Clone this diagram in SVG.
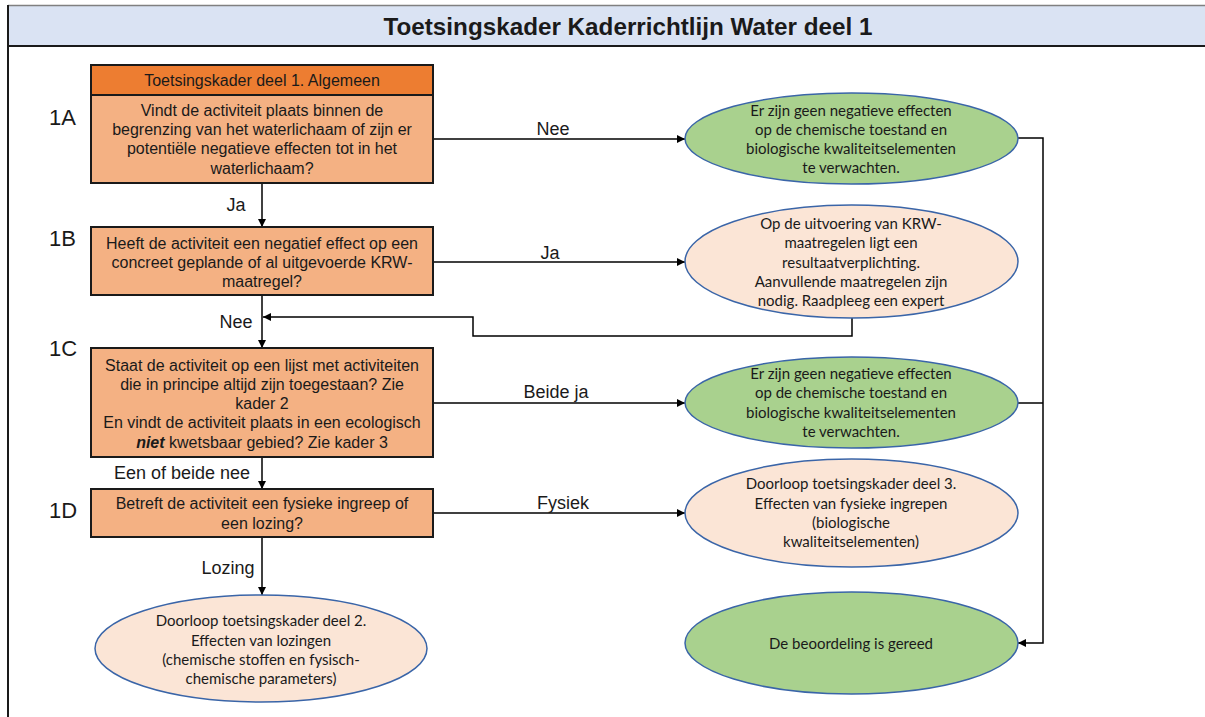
<svg xmlns="http://www.w3.org/2000/svg" width="1205" height="717" viewBox="0 0 1205 717">
<defs>
<marker id="arr" viewBox="0 0 10 10" refX="10" refY="5" markerWidth="8" markerHeight="8" markerUnits="userSpaceOnUse" orient="auto">
<path d="M0,0 L10,5 L0,10 z" fill="#000"/>
</marker>
<style>
.box{fill:#F4B183;stroke:#1a1a1a;stroke-width:2}
.hdr{fill:#ED7D31;stroke:#1a1a1a;stroke-width:2}
.bt{font-family:"Liberation Sans",Arial,sans-serif;font-size:16px;fill:#1a1a1a;text-anchor:middle}
.side{font-family:"Liberation Sans",Arial,sans-serif;font-size:22px;fill:#1a1a1a}
.lbl{font-family:"Liberation Sans",Arial,sans-serif;font-size:18px;fill:#1a1a1a;text-anchor:middle}
.green{fill:#A9D18E;stroke:#3A65A8;stroke-width:1.5}
.peach{fill:#FBE5D6;stroke:#3A65A8;stroke-width:1.5}
.et{font-family:Lato,"Open Sans",sans-serif;font-size:15px;fill:#1a1a1a;text-anchor:middle}
.con{fill:none;stroke:#000;stroke-width:1.5}
</style>
</defs>
<rect width="1205" height="717" fill="#fff"/>
<g id="frame">
<rect x="8" y="5" width="1200" height="41" fill="#DAE3F3"/>
<line x1="8" y1="5.5" x2="1205" y2="5.5" stroke="#808080" stroke-width="1.5"/>
<line x1="8" y1="46" x2="1205" y2="46" stroke="#1a1a1a" stroke-width="2"/>
<line x1="8" y1="5" x2="8" y2="717" stroke="#1a1a1a" stroke-width="2"/>
<text x="628" y="35" font-family="Liberation Sans,Arial,sans-serif" font-weight="bold" font-size="24" text-anchor="middle" fill="#1a1a1a" textLength="489" lengthAdjust="spacingAndGlyphs">Toetsingskader Kaderrichtlijn Water deel 1</text>
</g>
<g id="connectors">
<line class="con" x1="262" y1="183" x2="262" y2="227" marker-end="url(#arr)"/>
<text class="lbl" x="236" y="211">Ja</text>
<line class="con" x1="262" y1="295" x2="262" y2="348" marker-end="url(#arr)"/>
<text class="lbl" x="236" y="328">Nee</text>
<line class="con" x1="262" y1="457" x2="262" y2="489" marker-end="url(#arr)"/>
<text class="lbl" x="182" y="479">Een of beide nee</text>
<line class="con" x1="262" y1="537" x2="262" y2="595" marker-end="url(#arr)"/>
<text class="lbl" x="228" y="574">Lozing</text>
<line class="con" x1="433" y1="139" x2="685" y2="139" marker-end="url(#arr)"/>
<text class="lbl" x="553" y="135">Nee</text>
<line class="con" x1="433" y1="262" x2="685" y2="262" marker-end="url(#arr)"/>
<text class="lbl" x="550" y="259">Ja</text>
<line class="con" x1="433" y1="403" x2="685" y2="403" marker-end="url(#arr)"/>
<text class="lbl" x="556" y="398">Beide ja</text>
<line class="con" x1="433" y1="513" x2="685" y2="513" marker-end="url(#arr)"/>
<text class="lbl" x="563" y="509">Fysiek</text>
<path class="con" d="M852,318 V336 H473 V317 H263" marker-end="url(#arr)"/>
<path class="con" d="M1018,138 H1043 V643 H1018" marker-end="url(#arr)"/>
<path class="con" d="M1018,403 H1043"/>
</g>
<g id="node-1A">
<rect class="hdr" x="91" y="65" width="342" height="30"/>
<text class="bt" x="262" y="86">Toetsingskader deel 1. Algemeen</text>
<rect class="box" x="91" y="95" width="342" height="88"/>
<text class="bt" x="262" y="116">Vindt de activiteit plaats binnen de</text>
<text class="bt" x="262" y="135">begrenzing van het waterlichaam of zijn er</text>
<text class="bt" x="262" y="154">potentiële negatieve effecten tot in het</text>
<text class="bt" x="262" y="174">waterlichaam?</text>
<text class="side" x="49" y="125">1A</text>
</g>
<g id="node-1B">
<rect class="box" x="91" y="227" width="342" height="68"/>
<text class="bt" x="262" y="249">Heeft de activiteit een negatief effect op een</text>
<text class="bt" x="262" y="268">concreet geplande of al uitgevoerde KRW-</text>
<text class="bt" x="262" y="287">maatregel?</text>
<text class="side" x="49" y="246">1B</text>
</g>
<g id="node-1C">
<rect class="box" x="91" y="348" width="342" height="109"/>
<text class="bt" x="262" y="371">Staat de activiteit op een lijst met activiteiten</text>
<text class="bt" x="262" y="390">die in principe altijd zijn toegestaan? Zie</text>
<text class="bt" x="262" y="409">kader 2</text>
<text class="bt" x="262" y="428">En vindt de activiteit plaats in een ecologisch</text>
<text class="bt" x="262" y="448"><tspan font-weight="bold" font-style="italic">niet</tspan> kwetsbaar gebied? Zie kader 3</text>
<text class="side" x="49" y="356">1C</text>
</g>
<g id="node-1D">
<rect class="box" x="91" y="489" width="342" height="48"/>
<text class="bt" x="262" y="509">Betreft de activiteit een fysieke ingreep of</text>
<text class="bt" x="262" y="529">een lozing?</text>
<text class="side" x="49" y="518">1D</text>
</g>
<g id="node-lozing">
<ellipse class="peach" cx="261" cy="648.5" rx="166" ry="53.5"/>
<text class="et" x="261" y="626">Doorloop toetsingskader deel 2.</text>
<text class="et" x="261" y="646">Effecten van lozingen</text>
<text class="et" x="261" y="665">(chemische stoffen en fysisch-</text>
<text class="et" x="261" y="684">chemische parameters)</text>
</g>
<g id="node-E1">
<ellipse class="green" cx="851.5" cy="138.5" rx="166.5" ry="45.5"/>
<text class="et" x="851" y="116">Er zijn geen negatieve effecten</text>
<text class="et" x="851" y="135">op de chemische toestand en</text>
<text class="et" x="851" y="154">biologische kwaliteitselementen</text>
<text class="et" x="851" y="173">te verwachten.</text>
</g>
<g id="node-E2">
<ellipse class="peach" cx="851.5" cy="261.5" rx="166.5" ry="56.5"/>
<text class="et" x="851" y="229">Op de uitvoering van KRW-</text>
<text class="et" x="851" y="248">maatregelen ligt een</text>
<text class="et" x="851" y="268">resultaatverplichting.</text>
<text class="et" x="851" y="287">Aanvullende maatregelen zijn</text>
<text class="et" x="851" y="306">nodig. Raadpleeg een expert</text>
</g>
<g id="node-E3">
<ellipse class="green" cx="851.5" cy="402.5" rx="166.5" ry="45.5"/>
<text class="et" x="851" y="379">Er zijn geen negatieve effecten</text>
<text class="et" x="851" y="398">op de chemische toestand en</text>
<text class="et" x="851" y="418">biologische kwaliteitselementen</text>
<text class="et" x="851" y="437">te verwachten.</text>
</g>
<g id="node-E4">
<ellipse class="peach" cx="851.5" cy="513" rx="166.5" ry="54"/>
<text class="et" x="851" y="489">Doorloop toetsingskader deel 3.</text>
<text class="et" x="851" y="509">Effecten van fysieke ingrepen</text>
<text class="et" x="851" y="528">(biologische</text>
<text class="et" x="851" y="547">kwaliteitselementen)</text>
</g>
<g id="node-E5">
<ellipse class="green" cx="851.5" cy="643" rx="166.5" ry="51"/>
<text class="et" x="851" y="649">De beoordeling is gereed</text>
</g>
</svg>
